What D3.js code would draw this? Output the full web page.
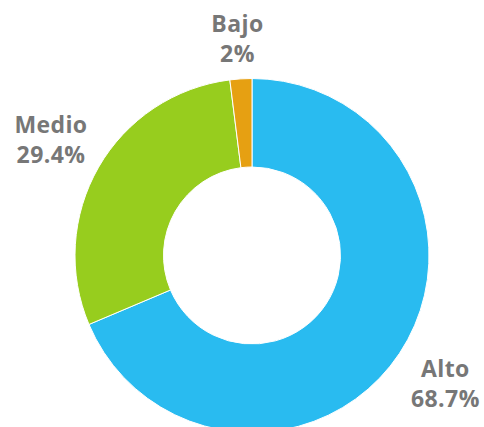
<!DOCTYPE html>
<html>
<head>
<meta charset="utf-8">
<script src="https://cdn.jsdelivr.net/npm/d3@7"></script>
<style>
  body { margin: 0; background: #fff; }
  #vis text { font-family: "Open Sans", "Noto Sans", sans-serif; font-weight: 700; fill: #777; letter-spacing: 0.4px; }
</style>
</head>
<body>
<div id="vis"></div>
<script>
const categories = ['Alto', 'Medio', 'Bajo'];
const values = [68.7, 29.4, 2];
const labels = ['68.7%', '29.4%', '2%'];
const colors = ['#29bbf0', '#97cd1e', '#e6a012'];

const width = 484;
const height = 427;
const cx = 252, cy = 255.5;
const outer = 177, inner = 88.5;
const labelR = 232;

const $svg = d3.select('#vis').append('svg')
  .attr('width', width)
  .attr('height', height);

const $plot = $svg.append('g')
  .attr('transform', `translate(${cx}, ${cy})`);

const data = categories.map((name, i) => ({ name, value: values[i], label: labels[i], color: colors[i] }));

const pie = d3.pie()
  .sort(null)
  .value(d => d.value);

const arc = d3.arc()
  .innerRadius(inner)
  .outerRadius(outer);

const labelArc = d3.arc()
  .innerRadius(labelR)
  .outerRadius(labelR);

const arcs = pie(data);

$plot.selectAll('path')
  .data(arcs)
  .enter()
  .append('path')
  .attr('d', arc)
  .attr('fill', d => d.data.color)
  .attr('stroke', '#fff')
  .attr('stroke-width', 1);

// labels sit outside each slice, kept inside the top of the frame
const $labels = $plot.selectAll('.label')
  .data(arcs)
  .enter()
  .append('text')
  .attr('class', 'label')
  .attr('text-anchor', 'middle')
  .attr('font-size', 23)
  .attr('transform', d => {
    const [x, y] = labelArc.centroid(d);
    return `translate(${x}, ${Math.max(y, 39 - cy)})`;
  });

$labels.append('tspan')
  .attr('x', 0)
  .attr('y', -7)
  .text(d => d.data.name);

$labels.append('tspan')
  .attr('x', 0)
  .attr('y', 23)
  .text(d => d.data.label);
</script>
</body>
</html>
